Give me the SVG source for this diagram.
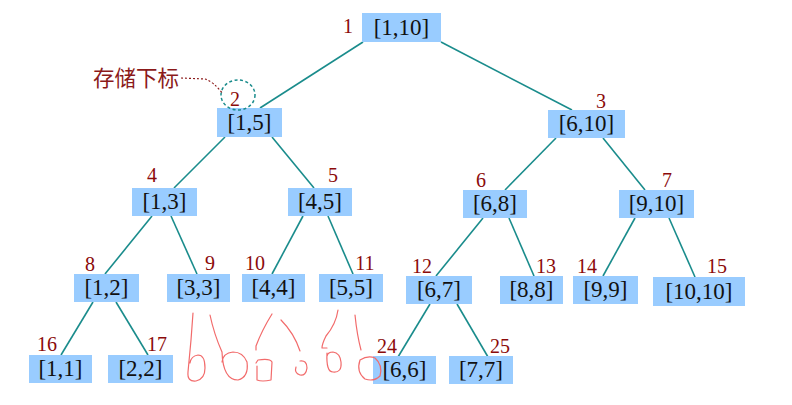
<svg xmlns="http://www.w3.org/2000/svg" width="792" height="405" viewBox="0 0 792 405">
<style>
.box{fill:#99CCFF}
.lbl{font-family:"Liberation Serif","DejaVu Serif",serif;font-size:23px;fill:#111;text-anchor:middle}
.num{font-family:"Liberation Serif","DejaVu Serif",serif;font-size:20px;fill:#8B0A0A;text-anchor:middle}
.edge{stroke:#1A8C8C;stroke-width:1.6;fill:none}
.scr{stroke:#F26B6B;stroke-width:1.2;fill:none;stroke-linecap:round;stroke-linejoin:round}
</style>
<rect width="792" height="405" fill="#fff"/>
<g id="connectors">
<line class="edge" x1="363" y1="42" x2="260" y2="108"/>
<line class="edge" x1="441" y1="42" x2="572" y2="110"/>
<line class="edge" x1="225" y1="137" x2="174" y2="188"/>
<line class="edge" x1="272" y1="137" x2="314" y2="188"/>
<line class="edge" x1="556" y1="138" x2="505" y2="190"/>
<line class="edge" x1="603" y1="138" x2="645" y2="190"/>
<line class="edge" x1="152" y1="216" x2="105" y2="274"/>
<line class="edge" x1="171" y1="216" x2="197" y2="274"/>
<line class="edge" x1="303" y1="216" x2="272" y2="274"/>
<line class="edge" x1="328" y1="216" x2="353" y2="274"/>
<line class="edge" x1="483" y1="218" x2="436" y2="276"/>
<line class="edge" x1="509" y1="218" x2="534" y2="276"/>
<line class="edge" x1="635" y1="218" x2="603" y2="276"/>
<line class="edge" x1="669" y1="218" x2="695" y2="277"/>
<line class="edge" x1="93" y1="302" x2="61" y2="355"/>
<line class="edge" x1="116" y1="302" x2="148" y2="355"/>
<line class="edge" x1="430" y1="304" x2="398" y2="357"/>
<line class="edge" x1="457" y1="304" x2="488" y2="357"/>
</g>
<g id="n1"><rect class="box" x="362" y="13" width="79" height="29"/><text class="lbl" x="401.5" y="35">[1,10]</text><text class="num" x="348" y="33">1</text></g>
<g id="n2"><rect class="box" x="217" y="108" width="65" height="29"/><text class="lbl" x="249.5" y="130">[1,5]</text><text class="num" x="235" y="106">2</text></g>
<g id="n3"><rect class="box" x="548" y="110" width="77" height="28"/><text class="lbl" x="586.5" y="131">[6,10]</text><text class="num" x="601" y="108">3</text></g>
<g id="n4"><rect class="box" x="132" y="188" width="65" height="28"/><text class="lbl" x="164.5" y="209">[1,3]</text><text class="num" x="152" y="182">4</text></g>
<g id="n5"><rect class="box" x="288" y="188" width="64" height="28"/><text class="lbl" x="320" y="209">[4,5]</text><text class="num" x="333" y="182">5</text></g>
<g id="n6"><rect class="box" x="463" y="190" width="64" height="28"/><text class="lbl" x="495" y="211">[6,8]</text><text class="num" x="481" y="187">6</text></g>
<g id="n7"><rect class="box" x="619" y="190" width="75" height="28"/><text class="lbl" x="656.5" y="211">[9,10]</text><text class="num" x="667" y="187">7</text></g>
<g id="n8"><rect class="box" x="74" y="274" width="65" height="28"/><text class="lbl" x="106.5" y="295">[1,2]</text><text class="num" x="90" y="271">8</text></g>
<g id="n9"><rect class="box" x="167" y="274" width="63" height="28"/><text class="lbl" x="198.5" y="295">[3,3]</text><text class="num" x="210" y="270">9</text></g>
<g id="n10"><rect class="box" x="242" y="274" width="63" height="28"/><text class="lbl" x="273.5" y="295">[4,4]</text><text class="num" x="255" y="270">10</text></g>
<g id="n11"><rect class="box" x="319" y="274" width="64" height="28"/><text class="lbl" x="351" y="295">[5,5]</text><text class="num" x="365" y="270">11</text></g>
<g id="n12"><rect class="box" x="406" y="276" width="66" height="28"/><text class="lbl" x="439" y="297">[6,7]</text><text class="num" x="422" y="273">12</text></g>
<g id="n13"><rect class="box" x="500" y="276" width="63" height="28"/><text class="lbl" x="531.5" y="297">[8,8]</text><text class="num" x="546" y="273">13</text></g>
<g id="n14"><rect class="box" x="573" y="276" width="65" height="28"/><text class="lbl" x="605.5" y="297">[9,9]</text><text class="num" x="587" y="273">14</text></g>
<g id="n15"><rect class="box" x="653" y="277" width="92" height="29"/><text class="lbl" x="699" y="299">[10,10]</text><text class="num" x="717" y="273">15</text></g>
<g id="n16"><rect class="box" x="29" y="355" width="63" height="28"/><text class="lbl" x="60.5" y="376">[1,1]</text><text class="num" x="47" y="351">16</text></g>
<g id="n17"><rect class="box" x="108" y="355" width="65" height="28"/><text class="lbl" x="140.5" y="376">[2,2]</text><text class="num" x="157" y="351">17</text></g>
<g id="n24"><rect class="box" x="373" y="356" width="63" height="28"/><text class="lbl" x="404.5" y="377">[6,6]</text><text class="num" x="387" y="353">24</text></g>
<g id="n25"><rect class="box" x="449" y="356" width="64" height="28"/><text class="lbl" x="481" y="377">[7,7]</text><text class="num" x="500" y="353">25</text></g>
<g id="annotation">
<text x="93" y="86" font-family="'Noto Sans CJK SC',sans-serif" font-size="21.5" fill="#8B1A1A">存储下标</text>
<path d="M181,78 L205,79 Q214,82 222,93" fill="none" stroke="#8B1A1A" stroke-width="1.2" stroke-dasharray="2,2"/>
<ellipse cx="238" cy="95" rx="17" ry="15" fill="none" stroke="#1A8C8C" stroke-width="1.5" stroke-dasharray="3,2.5"/>
</g>
<g id="scribbles">
<path class="scr" d="M193,313 L191,340 L188,372 Q187,382 196,381 Q205,379 205,368 Q205,355 198,355 Q191,356 190,363"/>
<path class="scr" d="M210,315 Q214,334 222,352 Q223,380 238,380 Q249,377 247,362 Q243,352 233,352 Q223,353 222,362"/>
<path class="scr" d="M272,314 Q262,330 256,346 L256,350"/>
<path class="scr" d="M256,363 L258,360 Q270,358 272,362 L271,380 Q262,382 257,380 L257,366"/>
<path class="scr" d="M281,320 Q294,333 300,351"/>
<path class="scr" d="M300,361 Q307,360 307,368 Q306,376 300,375 Q294,373 296,367"/>
<path class="scr" d="M338,310 Q336,324 326,336 Q322,344 322,348 L327,348"/>
<path class="scr" d="M327,353 Q326,372 333,372 Q342,373 341,362 Q340,353 333,352 Q328,352 327,356"/>
<path class="scr" d="M355,315 Q357,335 361,350"/>
<path class="scr" d="M360,360 Q356,372 365,379 Q374,382 380,376 Q383,365 375,358 Q368,355 360,360"/>
</g>
</svg>
